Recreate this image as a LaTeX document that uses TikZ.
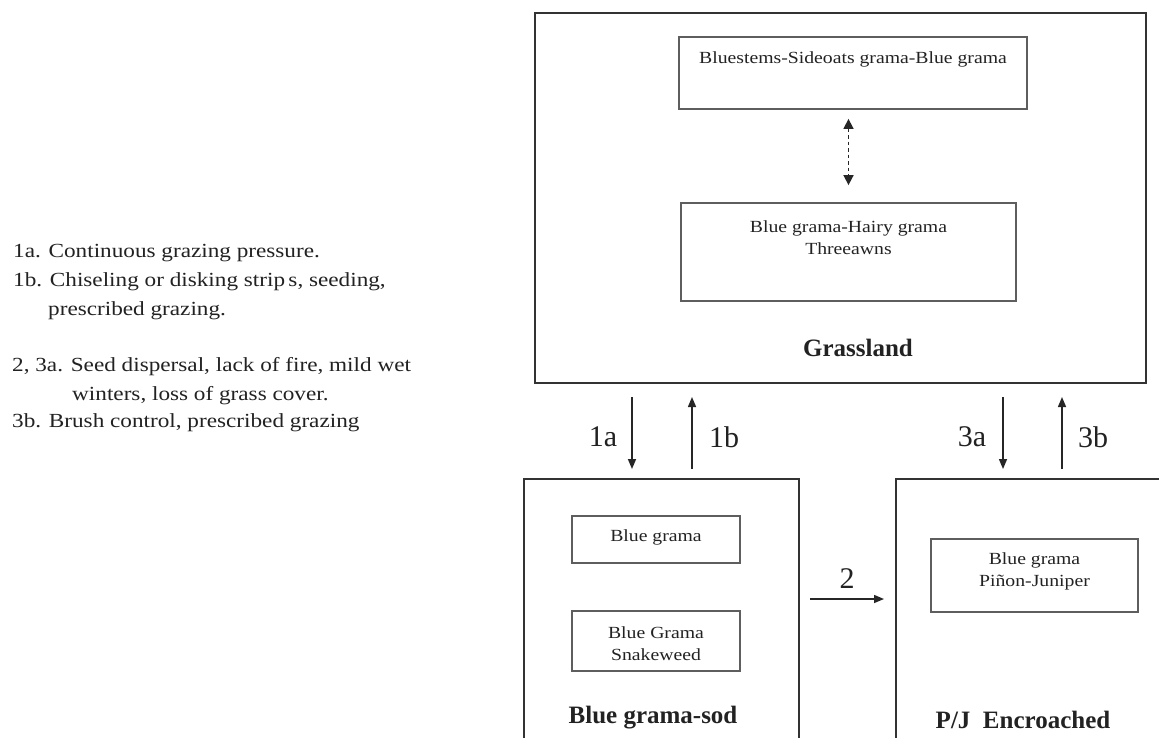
\documentclass[tikz,border=0pt]{standalone}
\usepackage{fontspec}
\setmainfont{Liberation Serif}
\newfontfamily\widefont{Liberation Serif}[FakeStretch=1.16]
\usetikzlibrary{arrows.meta}
\definecolor{outerc}{HTML}{333333}
\definecolor{innerc}{HTML}{5E5E5E}
\definecolor{txtc}{HTML}{222222}
\tikzset{
  outerbox/.style={draw=outerc, line width=2.7pt, rectangle, inner sep=0pt},
  innerbox/.style={draw=innerc, line width=1.8pt, rectangle, inner sep=0pt},
  itext/.style={font=\widefont\fontsize{17}{22}\selectfont, text=txtc, align=center, inner sep=0pt},
  ltext/.style={font=\widefont\fontsize{20}{24}\selectfont, text=txtc, anchor=west, inner sep=0pt},
  boxlabel/.style={font=\bfseries\fontsize{25}{30}\selectfont, text=txtc, inner sep=0pt},
  arrlabel/.style={font=\fontsize{30}{36}\selectfont, text=txtc, inner sep=0pt},
  conn/.style={draw=black!85, line width=1.5pt, -{Triangle[length=10pt,width=8pt]}},
  dconn/.style={draw=black!85, line width=1.6pt, dash pattern=on 3.5pt off 3pt, {Triangle[length=10pt,width=10pt]}-{Triangle[length=10pt,width=10pt]}}
}
\begin{document}
\begin{tikzpicture}[x=1pt,y=-1pt]
\useasboundingbox (0,0) rectangle (1159,737);
\clip (0,0) rectangle (1159,737);
\fill[white] (0,0) rectangle (1159,737);
% outer boxes
\node[outerbox, minimum width=611pt, minimum height=370pt] (grass) at (840.5,198) {};
\node[outerbox, minimum width=275pt, minimum height=321pt] (sod) at (661.5,639.5) {};
\node[outerbox, minimum width=304pt, minimum height=321pt] (pj) at (1048,639.5) {};
% grassland inner
\node[innerbox, minimum width=348pt, minimum height=72pt] (g1) at (853,73) {};
\node[itext] (g1t) at (853,59) {Bluestems-Sideoats grama-Blue grama};
\node[innerbox, minimum width=335pt, minimum height=98pt] (g2) at (848.5,252) {};
\node[itext] (g2t) at (848.5,238) {Blue grama-Hairy grama\\Threeawns};
\draw[dconn, shorten <=9pt, shorten >=17pt] (g2.north |- g1.south) -- (g2.north);
\node[boxlabel] (gl) at (858,348) {Grassland};
% sod inner
\node[innerbox, minimum width=168pt, minimum height=47pt] (s1) at (656,539.5) {};
\node[itext] (s1t) at (656,537) {Blue grama};
\node[innerbox, minimum width=168pt, minimum height=60pt] (s2) at (656,641) {};
\node[itext] (s2t) at (656,644) {Blue Grama\\Snakeweed};
\node[boxlabel] (sl) at (653,718) {Blue grama-sod};
% pj inner
\node[innerbox, minimum width=207pt, minimum height=73pt] (p1) at (1034.5,575.5) {};
\node[itext, align=center] (p1t) at (1034.5,571) {Blue grama\\Piñon-Juniper};
\node[boxlabel] (pl) at (1023,720) {P/J\enspace Encroached};
% transitions
\coordinate (a1s) at (632,397); \coordinate (a1e) at (632,469);
\coordinate (b1s) at (692,469); \coordinate (b1e) at (692,397);
\coordinate (a3s) at (1003,397); \coordinate (a3e) at (1003,469);
\coordinate (b3s) at (1062,469); \coordinate (b3e) at (1062,397);
\draw[conn] (a1s) -- (a1e);
\draw[conn] (b1s) -- (b1e);
\draw[conn] (a3s) -- (a3e);
\draw[conn] (b3s) -- (b3e);
\node[arrlabel] (l1a) at (603,437) {1a};
\node[arrlabel] (l1b) at (724,437) {1b};
\node[arrlabel] (l3a) at (972,437) {3a};
\node[arrlabel] (l3b) at (1093,437) {3b};
\coordinate (t2s) at (810,599); \coordinate (t2e) at (884,599);
\draw[conn] (t2s) -- (t2e);
\node[arrlabel] (l2) at (847,579) {2};
% legend
\node[ltext] (k1) at (13,253) {1a. Continuous grazing pressure.};
\node[ltext] (k2) at (13,282) {1b. Chiseling or disking strip\,s, seeding,};
\node[ltext] (k3) at (48,311) {prescribed grazing.};
\node[ltext] (k4) at (12,367) {2, 3a. Seed dispersal, lack of fire, mild wet};
\node[ltext] (k5) at (72,396) {winters, loss of grass cover.};
\node[ltext] (k6) at (12,423) {3b. Brush control, prescribed grazing};
\end{tikzpicture}
\end{document}
